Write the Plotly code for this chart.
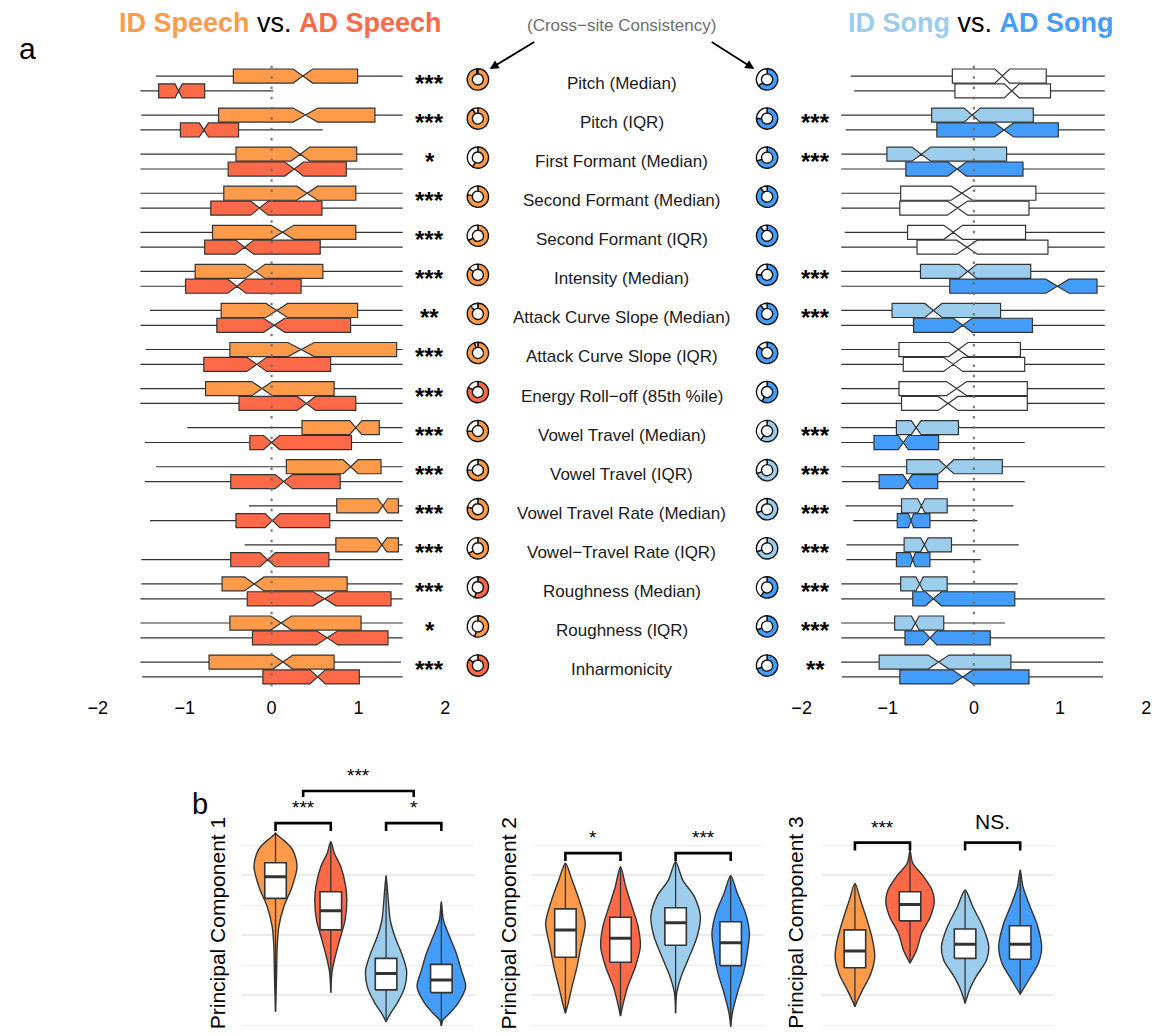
import plotly.graph_objects as go

W, H = 1161, 1036
FONT = "Liberation Sans, Arial, sans-serif"

# ---------------- panel a : feature-level contrasts ----------------
features = [
    "Pitch (Median)", "Pitch (IQR)", "First Formant (Median)", "Second Formant (Median)",
    "Second Formant (IQR)", "Intensity (Median)", "Attack Curve Slope (Median)",
    "Attack Curve Slope (IQR)", "Energy Roll\u2212off (85th %ile)", "Vowel Travel (Median)",
    "Vowel Travel (IQR)", "Vowel Travel Rate (Median)", "Vowel\u2212Travel Rate (IQR)",
    "Roughness (Median)", "Roughness (IQR)", "Inharmonicity",
]

speech_stars = ["***", "***", "*", "***", "***", "***", "**", "***", "***", "***",
                "***", "***", "***", "***", "*", "***"]
song_stars = ["", "***", "***", "", "", "***", "***", "", "", "***",
              "***", "***", "***", "***", "***", "**"]

# box statistics (z-scored units): lower whisker, Q1, median, Q3, upper whisker
speech_id_lo = [-1.33, -1.50, -1.51, -1.51, -1.51, -1.51, -1.40, -1.45, -1.51, -0.97, -1.33, -0.26, -0.31, -1.50, -1.51, -1.51]
speech_id_q1 = [-0.44, -0.61, -0.41, -0.55, -0.68, -0.88, -0.58, -0.48, -0.76, 0.35, 0.17, 0.75, 0.74, -0.57, -0.48, -0.72]
speech_id_md = [0.36, 0.39, 0.33, 0.41, 0.125, -0.19, 0.06, 0.34, -0.11, 0.97, 0.91, 1.28, 1.27, -0.20, 0.11, 0.13]
speech_id_q3 = [0.99, 1.19, 0.98, 0.97, 0.97, 0.59, 0.99, 1.44, 0.72, 1.24, 1.26, 1.46, 1.46, 0.87, 1.03, 0.72]
speech_id_hi = [1.51, 1.51, 1.51, 1.51, 1.51, 1.51, 1.51, 1.51, 1.51, 1.51, 1.51, 1.51, 1.51, 1.51, 1.51, 1.49]

speech_ad_lo = [-1.51, -1.51, -1.51, -1.51, -1.51, -1.51, -1.51, -1.51, -1.51, -1.46, -1.46, -1.40, -1.50, -1.51, -1.51, -1.49]
speech_ad_q1 = [-1.30, -1.05, -0.50, -0.70, -0.77, -0.99, -0.63, -0.78, -0.375, -0.25, -0.47, -0.41, -0.47, -0.28, -0.22, -0.10]
speech_ad_md = [-1.07, -0.78, 0.26, -0.14, -0.31, -0.40, 0.03, -0.17, 0.40, 0.0, 0.14, 0.01, -0.045, 0.61, 0.64, 0.53]
speech_ad_q3 = [-0.77, -0.38, 0.86, 0.58, 0.56, 0.34, 0.91, 0.68, 0.97, 0.92, 0.79, 0.67, 0.66, 1.375, 1.34, 1.01]
speech_ad_hi = [0.02, 0.59, 1.51, 1.51, 1.51, 1.51, 1.51, 1.51, 1.51, 1.51, 1.51, 1.51, 1.51, 1.51, 1.51, 1.51]

song_id_lo = [-1.43, -1.54, -1.54, -1.54, -1.50, -1.54, -1.54, -1.54, -1.54, -1.54, -1.54, -1.49, -1.48, -1.54, -1.54, -1.54]
song_id_q1 = [-0.25, -0.49, -1.01, -0.85, -0.77, -0.62, -0.95, -0.87, -0.87, -0.90, -0.78, -0.84, -0.81, -0.85, -0.92, -1.10]
song_id_md = [0.33, -0.02, -0.61, -0.14, -0.24, -0.07, -0.47, -0.18, -0.20, -0.67, -0.32, -0.61, -0.575, -0.63, -0.68, -0.41]
song_id_q3 = [0.84, 0.69, 0.38, 0.72, 0.60, 0.66, 0.31, 0.54, 0.62, -0.18, 0.33, -0.31, -0.26, -0.31, -0.35, 0.43]
song_id_hi = [1.52, 1.52, 1.52, 1.52, 1.52, 1.52, 1.52, 1.52, 1.52, 1.52, 1.52, 0.46, 0.52, 0.51, 0.36, 1.50]

song_ad_lo = [-1.39, -1.49, -1.54, -1.54, -1.54, -1.54, -1.54, -1.54, -1.54, -1.54, -1.53, -1.40, -1.48, -1.54, -1.54, -1.53]
song_ad_q1 = [-0.22, -0.43, -0.79, -0.86, -0.66, -0.28, -0.70, -0.82, -0.84, -1.16, -1.10, -0.89, -0.90, -0.71, -0.80, -0.86]
song_ad_md = [0.44, 0.35, -0.195, -0.19, -0.08, 0.97, -0.13, -0.24, -0.30, -0.82, -0.77, -0.73, -0.71, -0.47, -0.51, -0.13]
song_ad_q3 = [0.89, 0.98, 0.57, 0.64, 0.86, 1.43, 0.68, 0.59, 0.62, -0.41, -0.42, -0.51, -0.51, 0.475, 0.19, 0.64]
song_ad_hi = [1.52, 1.52, 1.52, 1.52, 1.52, 1.52, 1.52, 1.52, 1.52, 0.59, 0.59, 0.04, 0.08, 1.52, 1.52, 1.50]

# cross-site consistency: share of sites agreeing, and which condition is higher
speech_consistency = [0.98, 0.92, 0.58, 0.78, 0.68, 0.85, 0.88, 0.95, 0.82, 0.75, 0.75, 0.78, 0.67, 0.55, 0.55, 0.85]
speech_higher = ["ID", "ID", "ID", "ID", "ID", "ID", "ID", "ID", "AD", "ID", "ID", "ID", "ID", "AD", "ID", "AD"]
song_consistency = [0.65, 0.75, 0.70, 0.90, 0.90, 0.75, 0.90, 0.85, 0.58, 0.60, 0.70, 0.70, 0.70, 0.60, 0.70, 0.70]
song_higher = ["AD", "AD", "AD", "AD", "AD", "AD", "AD", "AD", "AD", "ID", "ID", "ID", "ID", "AD", "AD", "AD"]

N_PER_BOX = 400  # sample size behind the notch span

# ---------------- panel b : principal components ----------------
groups = ["ID Speech", "AD Speech", "ID Song", "AD Song"]
colors = {"ID Speech": "#FD9B4B", "AD Speech": "#FE6A48", "ID Song": "#9DCDEC", "AD Song": "#459DFB"}

# violin outlines: heights and half-widths (in category units), top to bottom
pc_violins = {
    1: {
        "ID Speech": ([3.40, 3.33, 3.17, 2.94, 2.72, 2.28, 1.61, 0.94, 0.28, -0.39, -1.28, -2.56],
                      [0.0, 0.03, 0.14, 0.27, 0.34, 0.39, 0.30, 0.15, 0.06, 0.03, 0.02, 0.0]),
        "AD Speech": ([3.11, 2.72, 2.28, 1.61, 1.17, 0.50, -0.17, -0.83, -1.27, -1.92],
                      [0.0, 0.066, 0.18, 0.27, 0.29, 0.26, 0.16, 0.066, 0.02, 0.0]),
        "ID Song": ([1.98, 1.39, 0.50, -0.06, -0.61, -1.17, -1.72, -2.28, -2.61, -2.89],
                    [0.0, 0.03, 0.075, 0.16, 0.28, 0.37, 0.34, 0.20, 0.08, 0.0]),
        "AD Song": ([1.11, 0.50, -0.06, -0.61, -1.17, -1.72, -2.28, -2.61, -2.83, -3.03],
                    [0.0, 0.036, 0.15, 0.27, 0.36, 0.44, 0.30, 0.15, 0.03, 0.0]),
    },
    2: {
        "ID Speech": ([2.39, 1.83, 1.17, 0.39, -0.39, -1.06, -1.72, -2.28, -2.61],
                      [0.0, 0.12, 0.25, 0.36, 0.28, 0.21, 0.12, 0.05, 0.0]),
        "AD Speech": ([2.28, 1.61, 0.94, 0.28, -0.39, -1.06, -1.72, -2.28, -2.70],
                      [0.0, 0.095, 0.21, 0.32, 0.36, 0.27, 0.13, 0.05, 0.0]),
        "ID Song": ([2.44, 1.83, 1.28, 0.61, -0.06, -0.72, -1.39, -1.94, -2.61],
                    [0.0, 0.13, 0.34, 0.45, 0.39, 0.25, 0.10, 0.02, 0.0]),
        "AD Song": ([1.98, 1.39, 0.72, 0.06, -0.61, -1.28, -1.94, -2.61, -3.06],
                    [0.0, 0.12, 0.27, 0.34, 0.30, 0.23, 0.12, 0.03, 0.0]),
    },
    3: {
        "ID Speech": ([1.72, 1.17, 0.50, -0.17, -0.72, -1.28, -1.83, -2.17, -2.39],
                      [0.0, 0.10, 0.22, 0.32, 0.36, 0.29, 0.14, 0.05, 0.0]),
        "AD Speech": ([2.81, 2.39, 1.94, 1.50, 1.11, 0.61, 0.06, -0.50, -0.94],
                      [0.0, 0.05, 0.25, 0.40, 0.44, 0.37, 0.21, 0.12, 0.0]),
        "ID Song": ([1.50, 0.94, 0.28, -0.39, -0.83, -1.39, -1.83, -2.28],
                    [0.0, 0.14, 0.32, 0.43, 0.39, 0.20, 0.08, 0.0]),
        "AD Song": ([2.17, 1.61, 0.94, 0.39, -0.39, -0.94, -1.50, -1.97],
                    [0.0, 0.05, 0.18, 0.30, 0.39, 0.33, 0.155, 0.0]),
    },
}

# box summaries inside the violins: Q1, median, Q3
pc_q1 = {1: [1.22, 0.17, -1.83, -1.92], 2: [-0.74, -0.91, -0.34, -1.02], 3: [-1.09, 0.47, -0.78, -0.81]}
pc_md = {1: [1.94, 0.81, -1.28, -1.50], 2: [0.17, -0.11, 0.41, -0.26], 3: [-0.53, 1.02, -0.31, -0.31]}
pc_q3 = {1: [2.41, 1.44, -0.78, -0.98], 2: [0.87, 0.59, 0.91, 0.44], 3: [0.17, 1.44, 0.20, 0.31]}

# significance brackets: (component, left group, right group, bar height, label)
pc_brackets = [
    (1, 0, 1, 3.73, "***"), (1, 2, 3, 3.73, "*"), (1, 0.5, 2.5, 4.80, "***"),
    (2, 0, 1, 2.73, "*"), (2, 2, 3, 2.73, "***"),
    (3, 0, 1, 3.08, "***"), (3, 2, 3, 3.08, "NS."),
]

# ======================================================================
fig = go.Figure()

LINE = "#333333"
white = "#FFFFFF"

# panel a geometry (pixels)
A_TOP, A_BOT = 52.2, 694.9
A_RANGE = [15.65, -0.8]


def row_pix(r):
    return A_TOP + (r - A_RANGE[1]) * (A_BOT - A_TOP) / (A_RANGE[0] - A_RANGE[1])


def notch(q1, q3):
    return [1.58 * (b - a) / N_PER_BOX ** 0.5 for a, b in zip(q1, q3)]


def add_boxes(rows, offset, lo, q1, md, q3, hi, fill, xa, ya):
    if not rows:
        return
    nq = notch(q1, q3)
    fig.add_trace(go.Box(
        y=[r + offset for r in rows],
        lowerfence=[lo[r] for r in rows], q1=[q1[r] for r in rows],
        median=[md[r] for r in rows], q3=[q3[r] for r in rows],
        upperfence=[hi[r] for r in rows], notchspan=[nq[r] for r in rows],
        notched=True, notchwidth=0.5, orientation="h", width=0.36, whiskerwidth=0,
        fillcolor=fill, line=dict(color=LINE, width=1.2), boxpoints=False,
        xaxis=xa, yaxis=ya, showlegend=False, hoverinfo="skip"))


all_rows = list(range(len(features)))
add_boxes(all_rows, -0.19, speech_id_lo, speech_id_q1, speech_id_md, speech_id_q3, speech_id_hi,
          colors["ID Speech"], "x", "y")
add_boxes(all_rows, 0.19, speech_ad_lo, speech_ad_q1, speech_ad_md, speech_ad_q3, speech_ad_hi,
          colors["AD Speech"], "x", "y")

sig_rows = [r for r in all_rows if song_stars[r]]
ns_rows = [r for r in all_rows if not song_stars[r]]
for rows, c_id, c_ad in [(sig_rows, colors["ID Song"], colors["AD Song"]), (ns_rows, white, white)]:
    add_boxes(rows, -0.19, song_id_lo, song_id_q1, song_id_md, song_id_q3, song_id_hi, c_id, "x2", "y2")
    add_boxes(rows, 0.19, song_ad_lo, song_ad_q1, song_ad_md, song_ad_q3, song_ad_hi, c_ad, "x2", "y2")

# consistency donuts
R_DONUT = 10.8
for cx, cons, higher, c_id, c_ad in [
        (474.0, speech_consistency, speech_higher, colors["ID Speech"], colors["AD Speech"]),
        (767.0, song_consistency, song_higher, colors["ID Song"], colors["AD Song"])]:
    for r in all_rows:
        cy = row_pix(r) - 4
        col = c_id if higher[r] == "ID" else c_ad
        fig.add_trace(go.Pie(
            values=[cons[r], 1 - cons[r]], sort=False,
            direction="clockwise" if higher[r] == "ID" else "counterclockwise", rotation=0,
            hole=0.52, textinfo="none", hoverinfo="skip", showlegend=False,
            marker=dict(colors=[col, white], line=dict(color="#111111", width=1.4)),
            domain=dict(x=[(cx - R_DONUT) / W, (cx + R_DONUT) / W],
                        y=[1 - (cy + R_DONUT) / H, 1 - (cy - R_DONUT) / H])))


def paper_text(xp, yp, text, size, color="black", **kw):
    d = dict(x=xp / W, y=1 - yp / H, xref="paper", yref="paper", text=text, showarrow=False,
             xanchor="center", yanchor="middle", font=dict(size=size, color=color, family=FONT))
    d.update(kw)
    return d


annotations = []
for r in all_rows:
    annotations.append(dict(x=620 / W, xref="paper", y=r, yref="y", text=features[r], showarrow=False,
                            xanchor="center", yanchor="middle",
                            font=dict(size=17, color="#1A1A1A", family=FONT)))
    if speech_stars[r]:
        annotations.append(dict(x=425 / W, xref="paper", y=r, yref="y", text="<b>" + speech_stars[r] + "</b>",
                                showarrow=False, xanchor="center", yanchor="middle",
                                font=dict(size=24, color="black", family=FONT)))
    if song_stars[r]:
        annotations.append(dict(x=816 / W, xref="paper", y=r, yref="y2", text="<b>" + song_stars[r] + "</b>",
                                showarrow=False, xanchor="center", yanchor="middle",
                                font=dict(size=24, color="black", family=FONT)))

annotations += [
    paper_text(274, 23, f'<b><span style="color:{colors["ID Speech"]}">ID Speech</span></b> vs. '
                        f'<b><span style="color:{colors["AD Speech"]}">AD Speech</span></b>', 27),
    paper_text(984, 23, f'<b><span style="color:{colors["ID Song"]}">ID Song</span></b> vs. '
                        f'<b><span style="color:{colors["AD Song"]}">AD Song</span></b>', 27),
    paper_text(620, 26, "(Cross\u2212site Consistency)", 17, "#6E6E6E"),
    paper_text(18, 48, "a", 30),
    paper_text(192, 804, "b", 29),
    dict(x=486 / W, y=1 - 69 / H, xref="paper", yref="paper", text="", showarrow=True,
         ax=46, ay=-28, arrowhead=2, arrowsize=1, arrowwidth=1.8, arrowcolor="black"),
    dict(x=754 / W, y=1 - 69 / H, xref="paper", yref="paper", text="", showarrow=True,
         ax=-44, ay=-28, arrowhead=2, arrowsize=1, arrowwidth=1.8, arrowcolor="black"),
]

shapes = []
for xa, ya in [("x", "y"), ("x2", "y2")]:
    shapes.append(dict(type="line", xref=xa, yref=ya, x0=0, x1=0, y0=-0.45, y1=15.55, layer="above",
                       line=dict(color="rgba(110,110,110,0.9)", width=2.2, dash="2.5px,7.8px")))

# ---------------- panel b drawing ----------------
pc_axes = {1: ("x3", "y3"), 2: ("x4", "y4"), 3: ("x5", "y5")}
pc_title_x = {1: 210, 2: 505, 3: 795}
BOX_W = 0.39
for pc, (xa, ya) in pc_axes.items():
    for k, g in enumerate(groups):
        ys, ws = pc_violins[pc][g]
        xs = [k + w for w in ws] + [k - w for w in ws[::-1]]
        yy = list(ys) + list(ys[::-1])
        common = dict(xaxis=xa, yaxis=ya, showlegend=False, hoverinfo="skip")
        # violin body
        fig.add_trace(go.Scatter(x=xs, y=yy, fill="toself", fillcolor=colors[g], mode="lines",
                                 line=dict(color=LINE, width=1.4, shape="spline", smoothing=0.8), **common))
        # whisker through the violin
        fig.add_trace(go.Scatter(x=[k, k], y=[min(ys), max(ys)], mode="lines",
                                 line=dict(color=LINE, width=1.3), **common))
        # interquartile box
        lo_b, hi_b = pc_q1[pc][k], pc_q3[pc][k]
        fig.add_trace(go.Scatter(x=[k - BOX_W / 2, k + BOX_W / 2, k + BOX_W / 2, k - BOX_W / 2, k - BOX_W / 2],
                                 y=[lo_b, lo_b, hi_b, hi_b, lo_b], fill="toself", fillcolor=white,
                                 mode="lines", line=dict(color=LINE, width=1.6), **common))
        # median
        fig.add_trace(go.Scatter(x=[k - BOX_W / 2, k + BOX_W / 2], y=[pc_md[pc][k]] * 2, mode="lines",
                                 line=dict(color=LINE, width=3), **common))
    annotations.append(paper_text(pc_title_x[pc], 923, f"Principal Component {pc}", 21, textangle=-90))

for pc, a, b, ybar, label in pc_brackets:
    xa, ya = pc_axes[pc]
    drop = 0.2 if (a % 1) else 0.26
    fig.add_trace(go.Scatter(x=[a, a, b, b], y=[ybar - drop, ybar, ybar, ybar - drop], mode="lines",
                             line=dict(color="black", width=2.6), xaxis=xa, yaxis=ya,
                             showlegend=False, hoverinfo="skip"))
    big = label == "NS."
    annotations.append(dict(x=(a + b) / 2, y=ybar + (0.25 if big else 0.1), xref=xa, yref=ya, text=label,
                            showarrow=False, xanchor="center", yanchor="bottom",
                            font=dict(size=21 if big else 19, color="black", family=FONT)))

# ---------------- layout ----------------
a_dom_y = [1 - A_BOT / H, 1 - A_TOP / H]
xa_common = dict(range=[-2, 2], tickvals=[-2, -1, 0, 1, 2], showgrid=False, zeroline=False,
                 showline=False, ticks="", tickfont=dict(size=18, color="black", family=FONT))
ya_common = dict(range=A_RANGE, domain=a_dom_y, visible=False)

b_dom_y = [0, 296 / H]
yb_common = dict(range=[-3.3667, 6.5], domain=b_dom_y, tickvals=[-2, 0, 2], showticklabels=False,
                 gridcolor="#EBEBEB", gridwidth=1.8, zeroline=False, ticks="",
                 minor=dict(tickvals=[-3, -1, 1, 3], gridcolor="#EFEFEF", gridwidth=1, showgrid=True))
xb_common = dict(range=[-0.6, 3.6], showgrid=False, zeroline=False, showticklabels=False, ticks="")

fig.update_layout(
    width=W, height=H, margin=dict(l=0, r=0, t=0, b=0),
    paper_bgcolor="white", plot_bgcolor="white", boxmode="overlay",
    font=dict(family=FONT, color="black"),
    xaxis=dict(domain=[89 / W, 441 / W], anchor="y", **xa_common),
    yaxis=dict(anchor="x", **ya_common),
    xaxis2=dict(domain=[802 / W, 1151 / W], anchor="y2", **xa_common),
    yaxis2=dict(anchor="x2", **ya_common),
    xaxis3=dict(domain=[235.4 / W, 470.6 / W], anchor="y3", **xb_common),
    yaxis3=dict(anchor="x3", **yb_common),
    xaxis4=dict(domain=[529.2 / W, 763.6 / W], anchor="y4", **xb_common),
    yaxis4=dict(anchor="x4", **yb_common),
    xaxis5=dict(domain=[822.5 / W, 1056.9 / W], anchor="y5", **xb_common),
    yaxis5=dict(anchor="x5", **yb_common),
    annotations=annotations, shapes=shapes,
)

fig.write_html("out.html")
